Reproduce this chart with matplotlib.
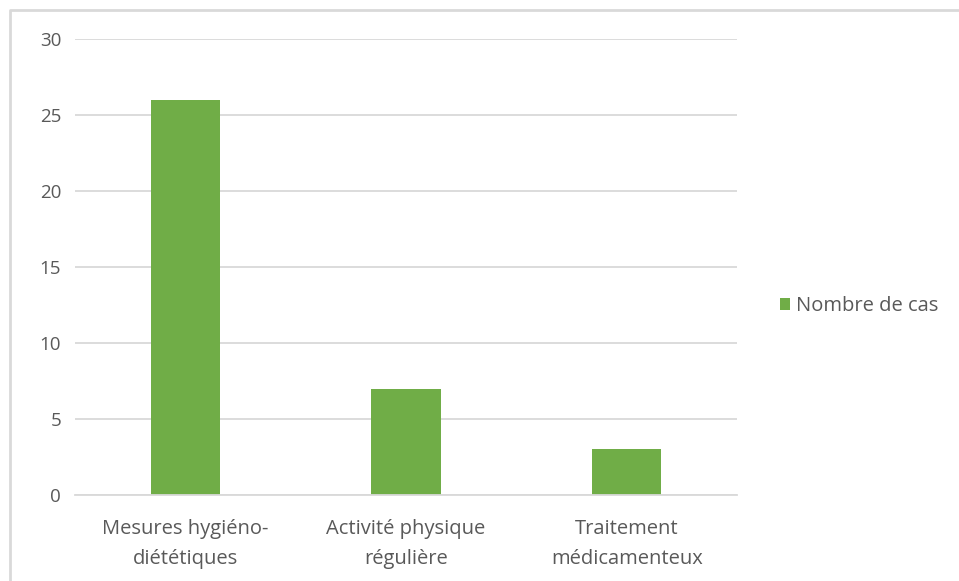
import matplotlib
matplotlib.use('Agg')
import matplotlib.pyplot as plt
from matplotlib.lines import Line2D

# --- data ---
categories = ['Mesures hygiéno-\ndiététiques', 'Activité physique\nrégulière', 'Traitement\nmédicamenteux']
nombre_de_cas = [26, 7, 3]
yticks = [0, 5, 10, 15, 20, 25, 30]

plt.rcParams['font.family'] = ['Open Sans', 'DejaVu Sans']
grey = '#595959'
green = '#70AD47'
fs = 13.5
fs_lab = 14.5

W, H = 959, 581
fig = plt.figure(figsize=(W / 100, H / 100), dpi=100)
ax = fig.add_axes([75 / W, 1 - 495 / H, (737 - 75) / W, (495 - 39) / H])

x = range(len(categories))
ax.bar(x, nombre_de_cas, width=0.315, color=green, zorder=3, label='Nombre de cas')
ax.set_xlim(-0.5, len(categories) - 0.5)
ax.set_ylim(0, 30)
ax.set_yticks(yticks)
ax.yaxis.grid(True, color='#d9d9d9', linewidth=1.3, zorder=0)
ax.set_xticks(list(x))
ax.set_xticklabels(categories, fontsize=fs_lab, color=grey, linespacing=1.7)
ax.tick_params(axis='y', labelsize=fs, colors=grey, length=0, pad=10)
ax.tick_params(axis='x', length=0, pad=17)
for s in ['top', 'right', 'left']:
    ax.spines[s].set_visible(False)
ax.spines['bottom'].set_color('#d9d9d9')
ax.spines['bottom'].set_linewidth(1.3)
ax.spines['bottom'].set_zorder(4)

leg = fig.legend(loc='center left', bbox_to_anchor=(762 / W, 1 - 306 / H), frameon=False,
                 fontsize=fs_lab, handlelength=0.5, handleheight=0.5, handletextpad=0.3)
for t in leg.get_texts():
    t.set_color(grey)

# chart frame
fig.add_artist(Line2D([10 / W, 10 / W, 1], [0, 1 - 10 / H, 1 - 10 / H],
                      transform=fig.transFigure, color='#d9d9d9', linewidth=2))

fig.savefig('out.png', dpi=100)
